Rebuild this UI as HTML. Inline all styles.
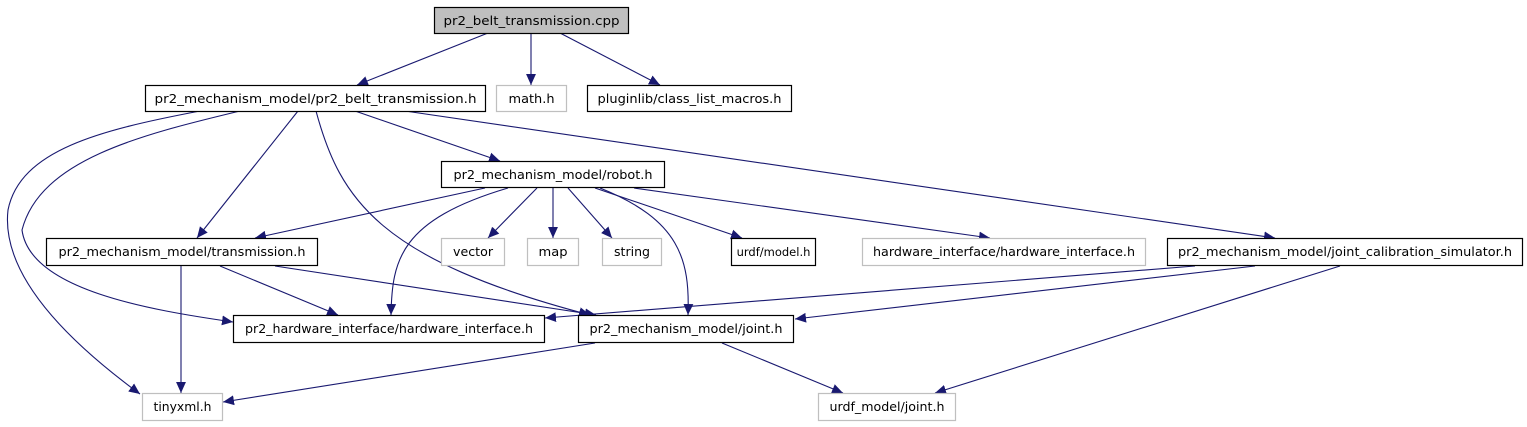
<!DOCTYPE html>
<html><head><meta charset="utf-8"><style>
body{margin:0;background:#fff;}
svg{display:block;}
text{font-family:"DejaVu Sans","Liberation Sans",sans-serif;font-size:12px;fill:#000;}
</style></head><body>
<svg width="1527" height="427" viewBox="0 0 1527 427" xmlns="http://www.w3.org/2000/svg">
<defs>
<marker id="a" viewBox="0 0 10 10" refX="10" refY="5" markerWidth="11" markerHeight="11" markerUnits="userSpaceOnUse" orient="auto">
<path d="M0,0.5 L10,5 L0,9.5 z" fill="#191970"/>
</marker>
</defs>
<g fill="none" stroke="#191970" stroke-width="1.1" marker-end="url(#a)">
<path d="M488,33 L357,85"/>
<path d="M531,33 L531,85"/>
<path d="M560,33 L660,85"/>
<path d="M200,111 C100,130 20,150 8,210 C0,280 80,350 140,394"/>
<path d="M240,111 C140,135 40,160 22,230 C30,290 150,310 233,322"/>
<path d="M298,111 L197,238"/>
<path d="M316,111 C340,200 380,260 590,315"/>
<path d="M355,111 L500,161"/>
<path d="M405,111 L1275,238"/>
<path d="M485,188 L255,238"/>
<path d="M508,188 C400,220 392,260 391,315"/>
<path d="M537,188 L488,238"/>
<path d="M553,188 L553,238"/>
<path d="M568,188 L612,238"/>
<path d="M600,188 C680,220 690,260 688,315"/>
<path d="M595,188 L742,238"/>
<path d="M634,188 L990,238"/>
<path d="M220,266 L338,315"/>
<path d="M275,266 L596,315"/>
<path d="M181,266 L181,393"/>
<path d="M1195,266 L545,318"/>
<path d="M1255,266 L795,319"/>
<path d="M1340,266 L935,393"/>
<path d="M595,343 L223,402"/>
<path d="M722,343 L843,393"/>
</g>
<g stroke-width="1.2">
<rect x="434.5" y="7.5" width="194" height="26" fill="#bfbfbf" stroke="#000"/>
<rect x="145.5" y="85.5" width="340" height="26" fill="#fff" stroke="#000"/>
<rect x="496.5" y="85.5" width="70" height="26" fill="#fff" stroke="#bfbfbf"/>
<rect x="587.5" y="85.5" width="204" height="26" fill="#fff" stroke="#000"/>
<rect x="441.5" y="161.5" width="223" height="26" fill="#fff" stroke="#000"/>
<rect x="46.5" y="238.5" width="271" height="27" fill="#fff" stroke="#000"/>
<rect x="441.5" y="238.5" width="63" height="27" fill="#fff" stroke="#bfbfbf"/>
<rect x="527.5" y="238.5" width="51" height="27" fill="#fff" stroke="#bfbfbf"/>
<rect x="602.5" y="238.5" width="59" height="27" fill="#fff" stroke="#bfbfbf"/>
<rect x="731.5" y="238.5" width="84" height="27" fill="#fff" stroke="#000"/>
<rect x="862.5" y="238.5" width="283" height="27" fill="#fff" stroke="#bfbfbf"/>
<rect x="1167.5" y="238.5" width="355" height="27" fill="#fff" stroke="#000"/>
<rect x="233.5" y="315.5" width="311" height="27" fill="#fff" stroke="#000"/>
<rect x="578.5" y="315.5" width="215" height="27" fill="#fff" stroke="#000"/>
<rect x="142.5" y="393.5" width="80" height="27" fill="#fff" stroke="#bfbfbf"/>
<rect x="818.5" y="393.5" width="137" height="27" fill="#fff" stroke="#bfbfbf"/>
</g>
<g text-anchor="middle">
<text x="531.5" y="25" textLength="176" lengthAdjust="spacingAndGlyphs">pr2_belt_transmission.cpp</text>
<text x="315.5" y="103" textLength="322" lengthAdjust="spacingAndGlyphs">pr2_mechanism_model/pr2_belt_transmission.h</text>
<text x="531.5" y="103" textLength="46" lengthAdjust="spacingAndGlyphs">math.h</text>
<text x="689.5" y="103" textLength="184" lengthAdjust="spacingAndGlyphs">pluginlib/class_list_macros.h</text>
<text x="553" y="179" textLength="199" lengthAdjust="spacingAndGlyphs">pr2_mechanism_model/robot.h</text>
<text x="182" y="256" textLength="247" lengthAdjust="spacingAndGlyphs">pr2_mechanism_model/transmission.h</text>
<text x="473" y="256" textLength="40" lengthAdjust="spacingAndGlyphs">vector</text>
<text x="553" y="256" textLength="29" lengthAdjust="spacingAndGlyphs">map</text>
<text x="632" y="256" textLength="36" lengthAdjust="spacingAndGlyphs">string</text>
<text x="773.5" y="256" style="font-size:11.5px">urdf/model.h</text>
<text x="1004" y="256" textLength="262" lengthAdjust="spacingAndGlyphs">hardware_interface/hardware_interface.h</text>
<text x="1345" y="256" textLength="334" lengthAdjust="spacingAndGlyphs">pr2_mechanism_model/joint_calibration_simulator.h</text>
<text x="389" y="333" textLength="288" lengthAdjust="spacingAndGlyphs">pr2_hardware_interface/hardware_interface.h</text>
<text x="686" y="333" textLength="193" lengthAdjust="spacingAndGlyphs">pr2_mechanism_model/joint.h</text>
<text x="182.5" y="411" textLength="58" lengthAdjust="spacingAndGlyphs">tinyxml.h</text>
<text x="887" y="411" textLength="115" lengthAdjust="spacingAndGlyphs">urdf_model/joint.h</text>
</g>
</svg>
</body></html>
